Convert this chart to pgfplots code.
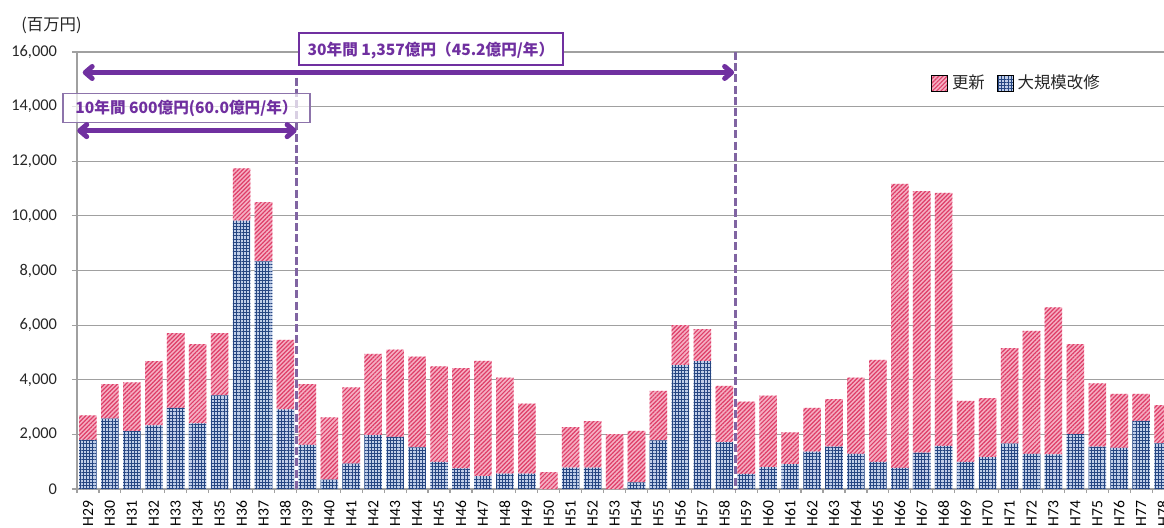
\documentclass[border=0pt]{standalone}
\usepackage{fontspec}
\setmainfont{Carlito}
\newfontfamily\jp{Noto Sans CJK JP}
\usepackage{pgfplots}
\pgfplotsset{compat=1.18}
\usepackage{pgfplotstable}
\usetikzlibrary{patterns.meta,arrows.meta}
\definecolor{pinkbg}{RGB}{245,175,195}
\definecolor{pinkln}{RGB}{222,62,104}
\definecolor{bluebg}{RGB}{192,206,232}
\definecolor{blueln}{RGB}{38,70,130}
\definecolor{purp}{RGB}{112,48,160}
\definecolor{purpl}{RGB}{128,100,162}
\definecolor{gridc}{RGB}{160,160,160}
\pgfplotstableread{
x blue upd
0 1800 900
1 2580 1260
2 2120 1780
3 2330 2350
4 2970 2740
5 2400 2900
6 3430 2280
7 9830 1910
8 8330 2170
9 2920 2540
10 1620 2220
11 340 2280
12 930 2790
13 1970 2980
14 1910 3190
15 1520 3330
16 990 3500
17 755 3675
18 475 4215
19 560 3520
20 560 2570
21 0 620
22 780 1485
23 780 1705
24 0 2010
25 245 1885
26 1780 1810
27 4540 1460
28 4680 1170
29 1720 2060
30 550 2650
31 800 2620
32 915 1155
33 1365 1605
34 1550 1740
35 1290 2790
36 990 3740
37 770 10400
38 1330 9580
39 1580 9260
40 990 2240
41 1170 2160
42 1660 3500
43 1290 4500
44 1270 5380
45 2010 3290
46 1550 2320
47 1510 1970
48 2490 990
49 1670 1400
}\datatable
\begin{document}
\begin{tikzpicture}
\useasboundingbox (-38.5pt,-19pt) rectangle (543.5pt,244.5pt);
\begin{axis}[
 at={(0pt,0pt)}, anchor=south west,
 scale only axis, width=543.5pt, height=218.5pt,
 xmin=-0.5, xmax=49.04, ymin=0, ymax=16000,
 ybar stacked, bar width=0.8,
 axis lines*=left,
 axis line style={draw=gridc, line width=0.6pt},
 ymajorgrids, grid style={draw=gridc, line width=0.6pt},
 ytick={0,2000,...,16000},
 scaled y ticks=false,
 yticklabel={\pgfmathprintnumber[fixed,precision=0,1000 sep={,},assume math mode=true]{\tick}},
 tick align=outside,
 major tick length=2.5pt,
 minor tick length=2pt,
 xtick={0,...,49},
 xticklabels={H29,H30,H31,H32,H33,H34,H35,H36,H37,H38,H39,H40,H41,H42,H43,H44,H45,H46,H47,H48,H49,H50,H51,H52,H53,H54,H55,H56,H57,H58,H59,H60,H61,H62,H63,H64,H65,H66,H67,H68,H69,H70,H71,H72,H73,H74,H75,H76,H77,H78},
 minor xtick={-0.5,0.5,...,48.5},
 major x tick style={draw=none},
 minor x tick style={draw=gridc, line width=0.6pt},
 y tick style={draw=gridc, line width=0.6pt},
 xticklabel style={rotate=90, anchor=east, font=\fontsize{7.8}{8}\selectfont, text=black},
 yticklabel style={font=\fontsize{8.2}{9}\selectfont, text=black!85, xshift=-4pt},
 clip=false,
 legend style={at={(0.78,0.929)}, anchor=west, draw=none, fill=none,
   font=\jp\fontsize{8.2}{9}\selectfont, text=black!85,
   /tikz/every even column/.append style={column sep=4pt}},
 legend columns=2,
 legend cell align=left,
]
\addplot[forget plot, fill=bluebg, draw=none,
  postaction={pattern color=blueln, pattern={Hatch[angle=0,distance=1.6pt,line width=0.5pt]}}]
  table[x=x,y=blue]{\datatable};
\addplot[forget plot, fill=pinkbg, draw=none,
  postaction={pattern color=pinkln, pattern={Lines[angle=45,distance=1.5pt,line width=0.6pt]}}]
  table[x=x,y=upd]{\datatable};
\addlegendimage{legend image code/.code={
  \fill[pinkbg] (0pt,-4pt) rectangle (8pt,4pt);
  \path[pattern color=pinkln, pattern={Lines[angle=45,distance=1.5pt,line width=0.6pt]}] (0pt,-4pt) rectangle (8pt,4pt);}}
\addlegendentry{更新}
\addlegendimage{legend image code/.code={
  \fill[bluebg] (0pt,-4pt) rectangle (8pt,4pt);
  \path[pattern color=blueln, pattern={Hatch[angle=0,distance=1.6pt,line width=0.5pt]}] (0pt,-4pt) rectangle (8pt,4pt);}}
\addlegendentry{大規模改修}
\coordinate (d1t) at (axis cs:9.5,15060);
\coordinate (d1b) at (axis cs:9.5,0);
\coordinate (d2t) at (axis cs:29.5,16000);
\coordinate (d2b) at (axis cs:29.5,0);
\coordinate (b2a) at (axis cs:-1.15,14484);
\coordinate (b2b) at (axis cs:10.12,13424);
\coordinate (b2c) at (axis cs:4.49,13920);
\coordinate (a1l) at (axis cs:-0.24,15250);
\coordinate (a1r) at (axis cs:29.45,15250);
\coordinate (a2l) at (axis cs:-0.49,13120);
\coordinate (a2r) at (axis cs:9.51,13120);
\coordinate (b1a) at (axis cs:9.62,16678);
\coordinate (b1b) at (axis cs:21.64,15523);
\coordinate (b1c) at (axis cs:15.63,16060);
\end{axis}
% dashed separators
\draw[purpl, line width=1.6pt, dash pattern=on 4pt off 1.6pt] (d1t) -- (d1b);
\draw[purpl, line width=1.6pt, dash pattern=on 4pt off 1.6pt] (d2t) -- (d2b);
% box 2
\fill[white, opacity=0.7] (b2a) rectangle (b2b);
\draw[purpl!90, line width=0.8pt] (b2a) rectangle (b2b);
\node[text=purp, font=\jp\bfseries\fontsize{7.8}{9}\selectfont] at (b2c) {10年間 600億円(60.0億円/年）};
% arrows
\draw[purp, line width=2.5pt, {Straight Barb[length=3.5pt,width=6pt,round]}-{Straight Barb[length=3.5pt,width=6pt,round]}] (a1l) -- (a1r);
\draw[purp, line width=2.5pt, {Straight Barb[length=3.5pt,width=6pt,round]}-{Straight Barb[length=3.5pt,width=6pt,round]}] (a2l) -- (a2r);
% box 1
\draw[purp, line width=1pt, fill=white] (b1a) rectangle (b1b);
\node[text=purp, font=\jp\bfseries\fontsize{7.8}{9}\selectfont] at (b1c) {30年間 1,357億円（45.2億円/年）};
\node[anchor=west, font=\jp\fontsize{8.2}{9}\selectfont, text=black!85, inner sep=0pt] at (-28pt,231.6pt) {(百万円)};
\end{tikzpicture}
\end{document}
